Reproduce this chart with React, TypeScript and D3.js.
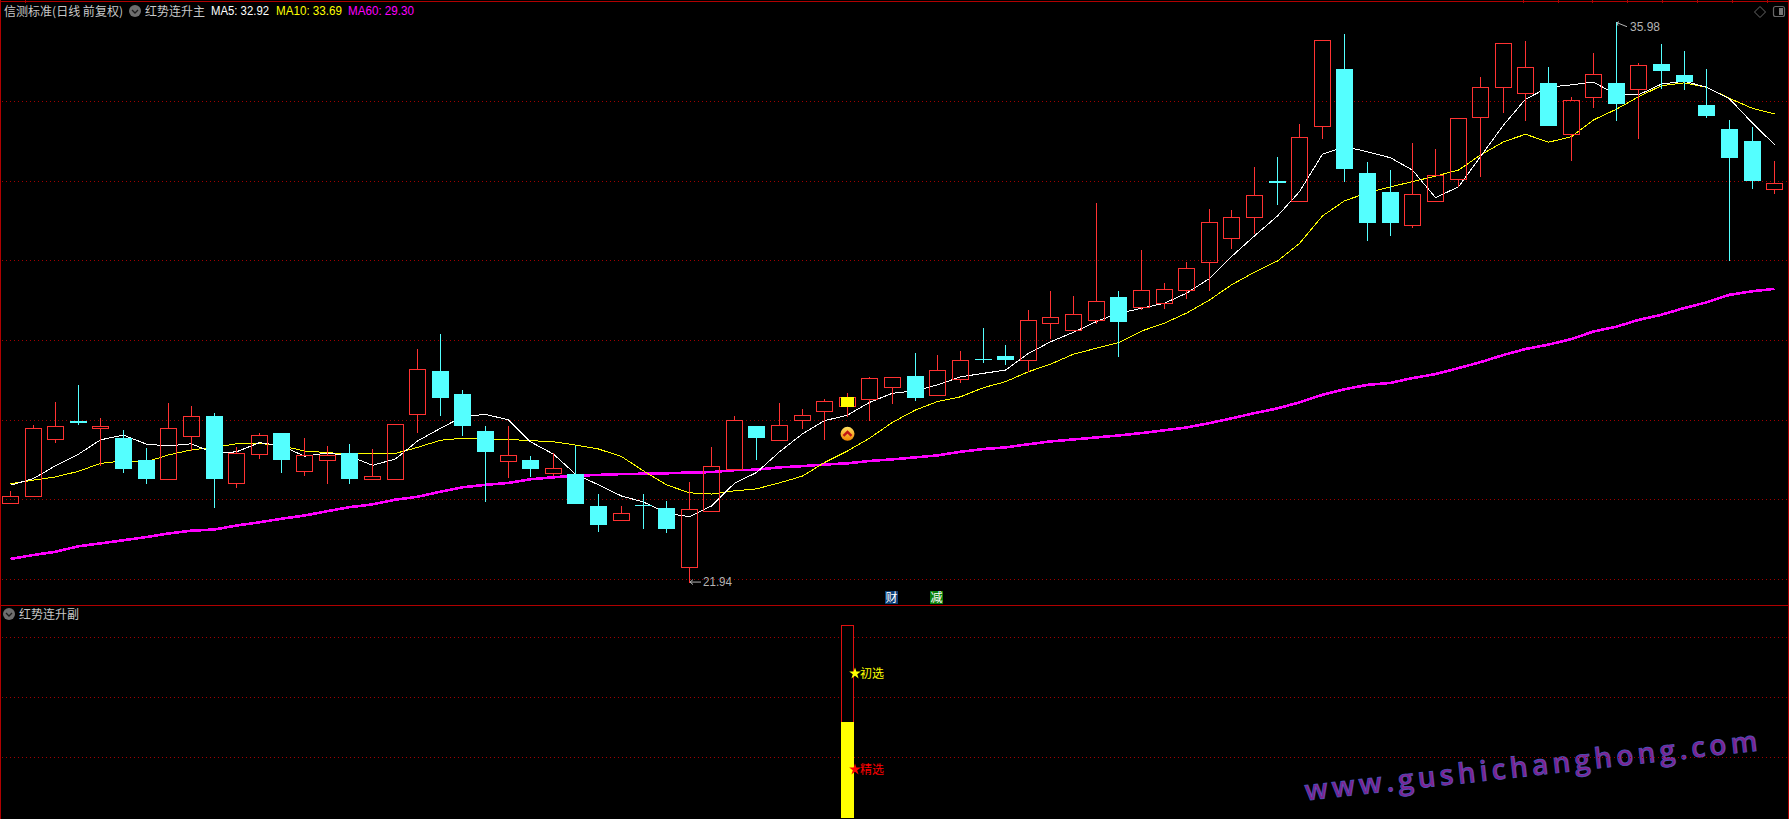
import React from "react";
import * as d3 from "d3";

const W = 1789;
const H = 819;

const highs = [24.23,25.88,26.46,26.89,26.06,25.76,25.31,26.43,26.36,26.18,25.33,25.67,25.68,25.56,25.36,25.41,25.28,25.90,27.78,28.17,26.76,25.86,25.86,25.10,25.18,25.36,24.15,23.85,24.15,23.98,24.45,25.33,26.11,25.86,26.43,26.28,26.54,26.68,27.09,27.08,27.69,27.64,27.74,28.32,27.89,28.77,29.25,29.12,31.45,29.25,30.28,29.45,29.97,31.30,31.28,32.36,32.61,33.44,35.54,35.70,32.48,32.28,32.95,32.81,33.58,34.61,35.46,35.52,34.87,34.11,35.22,35.98,34.97,35.45,35.27,34.82,33.54,33.36,32.51];
const opens = [23.92,24.09,25.52,25.98,25.81,25.56,25.00,24.51,25.59,26.11,24.41,25.16,25.68,24.71,25.01,25.18,24.51,24.51,26.14,27.24,26.66,25.73,24.98,25.00,24.66,24.65,23.85,23.48,23.88,23.80,22.30,23.73,24.76,25.86,25.49,25.99,26.22,26.36,26.54,26.82,27.11,26.62,27.04,27.54,27.61,27.50,28.43,28.27,28.50,29.10,28.85,28.93,29.26,29.98,30.58,31.09,32.01,31.51,33.37,34.82,32.21,31.73,30.89,31.49,32.04,33.60,34.35,34.20,34.47,33.17,34.10,34.47,34.32,34.94,34.67,33.91,33.31,33.01,31.79];
const closes = [24.09,25.80,25.85,25.93,25.86,24.78,24.53,25.80,26.10,24.53,25.17,25.62,25.00,25.12,25.12,24.53,24.59,25.90,27.28,26.56,25.86,25.21,25.12,24.78,24.80,23.90,23.37,23.67,23.86,23.27,23.77,24.85,26.00,25.56,25.88,26.13,26.48,26.58,27.05,27.08,26.56,27.26,27.51,27.52,27.51,28.51,28.59,28.66,28.99,28.47,29.26,29.29,29.82,30.97,31.10,31.65,31.96,33.10,35.54,32.31,30.95,30.95,31.67,32.15,33.58,34.36,35.46,34.86,33.39,34.03,34.69,33.94,34.91,34.77,34.49,33.64,32.58,32.01,31.95];
const lows = [23.92,24.09,25.46,25.91,24.88,24.70,24.43,24.51,25.26,23.82,24.33,25.05,24.70,24.63,24.43,24.43,24.51,24.51,25.71,26.13,25.63,23.98,24.58,24.60,24.63,23.90,23.22,23.48,23.30,23.20,21.94,23.73,24.76,25.03,25.49,25.81,25.53,26.11,26.01,26.43,26.51,26.62,26.96,27.46,27.41,27.22,28.07,28.27,28.44,27.61,28.79,28.82,29.07,29.27,30.33,30.70,31.43,31.51,33.09,32.01,30.51,30.65,30.85,31.49,31.88,32.13,33.72,33.54,33.39,32.53,33.86,33.54,33.09,34.34,34.32,33.61,30.01,31.83,31.71];

const ma5 = [24.37,24.54,24.86,25.15,25.51,25.63,25.40,25.36,25.41,25.17,25.21,25.44,25.36,25.10,25.18,25.10,24.87,25.03,25.48,25.80,26.09,26.15,26.01,25.46,25.15,24.65,24.38,24.10,23.95,23.67,23.58,23.85,24.42,24.69,25.21,25.66,25.99,26.13,26.45,26.68,26.74,26.89,27.09,27.18,27.26,27.68,27.97,28.21,28.48,28.69,28.81,28.94,29.19,29.56,30.11,30.63,31.13,31.74,32.68,32.87,32.74,32.59,32.28,31.59,31.86,32.62,33.41,34.06,34.36,34.42,34.49,34.17,34.17,34.44,34.51,34.36,34.07,33.46,32.92];
const ma10 = [24.41,24.50,24.58,24.72,24.92,24.98,24.96,25.13,25.26,25.32,25.41,25.42,25.36,25.23,25.19,25.15,25.17,25.17,25.32,25.50,25.55,25.52,25.52,25.49,25.46,25.38,25.28,25.09,24.73,24.38,24.18,24.15,24.23,24.28,24.43,24.60,24.94,25.23,25.55,25.95,26.26,26.47,26.59,26.82,26.97,27.22,27.41,27.66,27.81,27.95,28.24,28.44,28.69,29.02,29.40,29.72,30.00,30.44,31.13,31.51,31.71,31.86,31.99,32.13,32.28,32.66,32.99,33.18,32.98,33.12,33.54,33.81,34.12,34.40,34.47,34.36,34.08,33.83,33.69];
const ma60 = [22.52,22.62,22.70,22.84,22.91,22.99,23.07,23.16,23.23,23.26,23.36,23.44,23.53,23.61,23.72,23.82,23.89,24.01,24.08,24.21,24.32,24.38,24.43,24.52,24.57,24.61,24.63,24.65,24.66,24.67,24.69,24.70,24.75,24.76,24.82,24.85,24.89,24.92,24.98,25.02,25.07,25.12,25.21,25.28,25.32,25.40,25.47,25.52,25.57,25.62,25.68,25.75,25.82,25.93,26.05,26.18,26.30,26.45,26.64,26.78,26.89,26.94,27.06,27.16,27.31,27.46,27.64,27.79,27.90,28.04,28.23,28.35,28.52,28.65,28.82,28.96,29.15,29.24,29.30];

const priceGrid = [34, 32, 30, 28, 26, 24, 22];
const subGrid = [1.875, 1.25, 0.63];
const subOutlineValue = 2;
const subFillValue = 1;
const subLabels = [
  { name: "初选", value: 1.5, color: "#ffff00" },
  { name: "精选", value: 0.5, color: "#ff0000" },
];
const signalIndex = 37;
const signalBadgePrice = 25.66;
const newsBadges = [
  { index: 39, text: "财", color: "#0c3f78" },
  { index: 41, text: "减", color: "#0a7f0a" },
];
const lowIndex = 30;
const highIndex = 71;
const topTicks = [25, 1523, 1558, 1592, 1627, 1662, 1697, 1732, 1767];

const RED = "#ff3232";
const CYAN = "#54ffff";
const BORDER = "#b00000";
const GRIDC = "#a00000";
const CJK = "'Noto Sans CJK SC', sans-serif";
const LATIN = "'Liberation Sans', sans-serif";

const xs = d3.scaleLinear().domain([0, 78]).range([10.5, 1774.7]);
const ys = d3.scaleLinear().domain([36.55, 21.94]).range([0, 582.07]);
const ysub = d3.scaleLinear().domain([0, 2]).range([817.5, 625.5]);

const col = (i: number) => Math.floor(xs(i));
const row = (p: number) => Math.round(ys(p) - 0.25);

const maLine = d3
  .line<number>()
  .x((_, i) => col(i) + 0.5)
  .y((v) => ys(v));

function Candle({ i }: { i: number }) {
  const c = col(i);
  const up = closes[i] >= opens[i];
  const top = Math.max(opens[i], closes[i]);
  const bot = Math.min(opens[i], closes[i]);
  const color = up ? RED : CYAN;
  const t = row(top);
  const b = row(bot);
  const h = row(highs[i]);
  const l = row(lows[i]);
  return (
    <g shapeRendering="crispEdges">
      {h < t && <rect x={c} y={h} width={1} height={t - h} fill={color} />}
      {l > b && <rect x={c} y={b} width={1} height={l - b + 1} fill={color} />}
      {up ? (
        <rect x={c - 7.5} y={t + 0.5} width={16} height={Math.max(b - t, 1)} fill="none" stroke={color} strokeWidth={1} />
      ) : (
        <rect x={c - 8} y={t} width={17} height={Math.max(b - t, 1)} fill={color} />
      )}
    </g>
  );
}

function DownIcon({ cx, cy }: { cx: number; cy: number }) {
  return (
    <g>
      <circle cx={cx} cy={cy} r={6} fill="#6e6e6e" />
      <path d={`M${cx - 3},${cy - 1} L${cx},${cy + 2} L${cx + 3},${cy - 1}`} fill="none" stroke="#1c1c1c" strokeWidth={1.3} />
    </g>
  );
}

export default function App() {
  const n = highs.length;
  const star = d3.symbol().type(d3.symbolStar).size(42)() as string;
  const sigX = col(signalIndex);
  const sigTop = row(Math.max(opens[signalIndex], closes[signalIndex]));
  const sigBot = row(Math.min(opens[signalIndex], closes[signalIndex]));
  const badgeY = ys(signalBadgePrice);
  const lowY = ys(lows[lowIndex]);
  const highY = ys(highs[highIndex]);
  const lowX = col(lowIndex);
  const highX = col(highIndex);
  const barX = sigX - 6;
  const last = n - 1;

  return (
    <svg
      width={W}
      height={H}
      viewBox={`0 0 ${W} ${H}`}
      style={{ position: "fixed", left: 0, top: 0, background: "#000", display: "block" }}
    >
      <defs>
        <linearGradient id="badge" x1="0" y1="0" x2="0" y2="1">
          <stop offset="0" stopColor="#ffe060" />
          <stop offset="1" stopColor="#f08400" />
        </linearGradient>
      </defs>
      <rect width={W} height={H} fill="#000" />

      {/* watermark */}
      <text
        transform="translate(1306,800.5) rotate(-6.3)"
        fontFamily="'Open Sans', sans-serif"
        fontWeight={600}
        fontSize={28}
        fill="#84208e"
        stroke="#5050b8"
        strokeWidth={0.9}
        textLength={455}
        lengthAdjust="spacing"
      >
        www.gushichanghong.com
      </text>

      {/* grid */}
      <g shapeRendering="crispEdges" stroke={GRIDC} strokeWidth={1} strokeDasharray="1 3">
        {priceGrid.map((p) => (
          <line key={p} x1={2} x2={1788} y1={Math.floor(ys(p)) + 0.5} y2={Math.floor(ys(p)) + 0.5} />
        ))}
        {subGrid.map((v) => (
          <line key={v} x1={2} x2={1788} y1={Math.floor(ysub(v)) + 0.5} y2={Math.floor(ysub(v)) + 0.5} />
        ))}
      </g>

      {/* frame */}
      <g shapeRendering="crispEdges" fill={BORDER}>
        <rect x={0} y={1} width={W} height={1} />
        <rect x={0} y={605} width={W} height={1} />
        <rect x={0} y={0} width={1} height={H} />
        <rect x={1788} y={0} width={1} height={H} />
        {topTicks.map((x) => (
          <rect key={x} x={x} y={0} width={1} height={3} />
        ))}
      </g>

      {/* moving averages */}
      <g fill="none" shapeRendering="crispEdges">
        <path d={maLine(ma60) as string} stroke="#ff00ff" strokeWidth={2.6} />
        <path d={maLine(ma10) as string} stroke="#ffff00" strokeWidth={1} />
        <path d={maLine(ma5) as string} stroke="#ffffff" strokeWidth={1} />
      </g>

      {/* candles */}
      {d3.range(n).map((i) => (
        <Candle key={i} i={i} />
      ))}

      {/* signal */}
      <rect x={barX} y={sigTop} width={13} height={sigBot - sigTop + 1} fill="#ffff00" shapeRendering="crispEdges" />
      <circle cx={sigX + 0.5} cy={badgeY} r={7} fill="url(#badge)" />
      <path
        d={`M${sigX - 3.5},${badgeY + 2} L${sigX + 0.5},${badgeY - 2} L${sigX + 4.5},${badgeY + 2}`}
        fill="none"
        stroke="#c01414"
        strokeWidth={2.4}
      />

      {/* extremes */}
      <g stroke="#b4b4b4" fill="none" strokeWidth={1}>
        <path d={`M${lowX + 1},${lowY} H${lowX + 12} M${lowX + 4},${lowY - 2.5} L${lowX + 1},${lowY} L${lowX + 4},${lowY + 2.5}`} />
        <path d={`M${highX + 1},${highY} L${highX + 11},${highY + 4} M${highX + 1},${highY} L${highX + 3},${highY - 1} M${highX + 1},${highY} L${highX + 2},${highY + 3}`} />
      </g>
      <text x={lowX + 14} y={lowY + 4} fontFamily={LATIN} fontSize={12} fill="#b4b4b4" textLength={29} lengthAdjust="spacingAndGlyphs">
        {lows[lowIndex].toFixed(2)}
      </text>
      <text x={highX + 14} y={highY + 8.5} fontFamily={LATIN} fontSize={12} fill="#b4b4b4" textLength={30} lengthAdjust="spacingAndGlyphs">
        {highs[highIndex].toFixed(2)}
      </text>

      {/* header */}
      <text x={4} y={15.5} fontFamily={CJK} fontSize={12} fill="#c8c8c8" textLength={119} lengthAdjust="spacingAndGlyphs">
        信测标准(日线 前复权)
      </text>
      <DownIcon cx={135} cy={11} />
      <text x={145} y={15.5} fontFamily={CJK} fontSize={12} fill="#c8c8c8">
        红势连升主
      </text>
      <text x={211} y={15} fontFamily={LATIN} fontSize={12} fill="#ffffff" textLength={58} lengthAdjust="spacingAndGlyphs">
        {`MA5: ${ma5[last].toFixed(2)}`}
      </text>
      <text x={276} y={15} fontFamily={LATIN} fontSize={12} fill="#ffff00" textLength={66} lengthAdjust="spacingAndGlyphs">
        {`MA10: ${ma10[last].toFixed(2)}`}
      </text>
      <text x={348} y={15} fontFamily={LATIN} fontSize={12} fill="#ff00ff" textLength={66} lengthAdjust="spacingAndGlyphs">
        {`MA60: ${ma60[last].toFixed(2)}`}
      </text>

      {/* top right icons */}
      <g fill="none" stroke="#666" strokeWidth={1}>
        <path d="M1760,6.5 L1765.5,12 L1760,17.5 L1754.5,12 Z" />
        <rect x={1773.5} y={6.5} width={11} height={10} rx={2} strokeWidth={1.2} />
        <rect x={1779} y={8} width={4} height={7} fill="#777" stroke="none" />
      </g>

      {/* news markers */}
      {newsBadges.map((b) => {
        const cx = col(b.index);
        return (
          <g key={b.text}>
            <rect x={cx - 7} y={591} width={13} height={13} fill={b.color} shapeRendering="crispEdges" />
            <text x={cx - 0.5} y={602} textAnchor="middle" fontFamily={CJK} fontSize={12} fill="#ffffff">
              {b.text}
            </text>
          </g>
        );
      })}

      {/* sub pane */}
      <DownIcon cx={9} cy={614} />
      <text x={19} y={618.5} fontFamily={CJK} fontSize={12} fill="#c8c8c8">
        红势连升副
      </text>
      <rect
        x={barX + 0.5}
        y={ysub(subOutlineValue)}
        width={12}
        height={ysub(0) - ysub(subOutlineValue)}
        fill="#000"
        stroke="#e01010"
        strokeWidth={1}
        shapeRendering="crispEdges"
      />
      <rect
        x={barX}
        y={ysub(subFillValue)}
        width={13}
        height={ysub(0) - ysub(subFillValue)}
        fill="#ffff00"
        shapeRendering="crispEdges"
      />
      {subLabels.map((s) => (
        <g key={s.name}>
          <path d={star} transform={`translate(${barX + 14},${ysub(s.value)})`} fill={s.color} />
          <text x={barX + 19} y={ysub(s.value) + 4.5} fontFamily={CJK} fontSize={12} fill={s.color}>
            {s.name}
          </text>
        </g>
      ))}
    </svg>
  );
}
